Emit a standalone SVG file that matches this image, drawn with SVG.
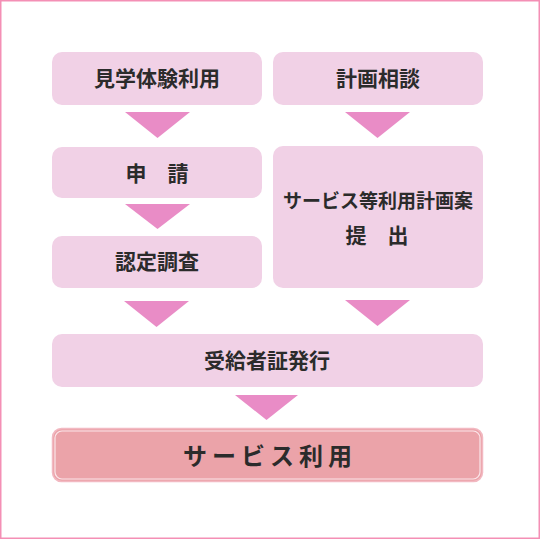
<svg xmlns="http://www.w3.org/2000/svg" width="540" height="540" viewBox="0 0 540 540">
<style>
.box{fill:#f1d1e6;}
.arr{fill:#e98cc6;}
.t{font-family:"Noto Sans CJK JP","Noto Sans",sans-serif;font-weight:700;font-size:21px;fill:#2b2b2b;text-anchor:middle;}
.sm{font-size:19px;}
.big{font-size:24px;letter-spacing:5px;}
</style>
<rect x="0.75" y="0.75" width="538.5" height="537.5" fill="#ffffff" stroke="#f48fb5" stroke-width="1.5"/>
<g id="connectors">
<polygon class="arr" points="125,112 190,112 157.5,138"/>
<polygon class="arr" points="125,204 190,204 157.5,229"/>
<polygon class="arr" points="124,301 189,301 156.5,327"/>
<polygon class="arr" points="345,112 410,112 377.5,138"/>
<polygon class="arr" points="345,300 410,300 377.5,326"/>
<polygon class="arr" points="235,395 298,395 266.5,420"/>
</g>
<g id="n1"><rect class="box" x="52" y="52" width="210" height="53" rx="10"/><text class="t" x="157" y="86">見学体験利用</text></g>
<g id="n2"><rect class="box" x="52" y="147" width="210" height="51" rx="10"/><text class="t" x="157" y="181">申　請</text></g>
<g id="n3"><rect class="box" x="52" y="236" width="210" height="52" rx="10"/><text class="t" x="157" y="269">認定調査</text></g>
<g id="n4"><rect class="box" x="273" y="52" width="210" height="53" rx="10"/><text class="t" x="378" y="86">計画相談</text></g>
<g id="n5"><rect class="box" x="273" y="146" width="210" height="142" rx="10"/><text class="t sm" x="378" y="208">サービス等利用計画案</text><text class="t" x="377" y="243">提　出</text></g>
<g id="n6"><rect class="box" x="52" y="334" width="431" height="53" rx="10"/><text class="t" x="267" y="368">受給者証発行</text></g>
<g id="n7"><rect x="52.5" y="428.5" width="430" height="53" rx="9" fill="#eba3a9" stroke="#f2b9c2" stroke-width="1.5"/><rect x="55" y="431" width="425" height="48" rx="7" fill="none" stroke="#fbe6ea" stroke-width="1.2"/><text class="t big" x="270" y="465">サービス利用</text></g>
</svg>
